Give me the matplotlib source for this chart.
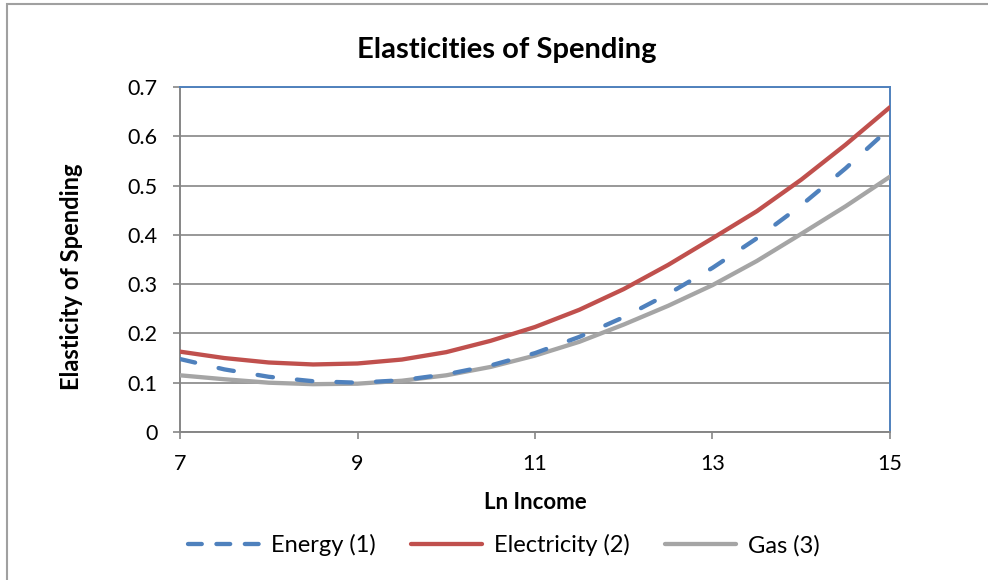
import numpy as np
import matplotlib
matplotlib.use("Agg")
import matplotlib.pyplot as plt
from matplotlib.lines import Line2D
from matplotlib.patches import Rectangle

plt.rcParams['font.family'] = ['Lato', 'DejaVu Sans']

# Ln income grid and spending elasticities per series
ln_income = [7.0, 7.5, 8.0, 8.5, 9.0, 9.5, 10.0, 10.5, 11.0, 11.5,
             12.0, 12.5, 13.0, 13.5, 14.0, 14.5, 15.0]
energy = [0.148, 0.127, 0.112, 0.103, 0.100, 0.105, 0.117, 0.135, 0.160,
          0.193, 0.233, 0.280, 0.333, 0.393, 0.460, 0.535, 0.617]
electricity = [0.163, 0.150, 0.141, 0.137, 0.139, 0.147, 0.162, 0.185, 0.213,
               0.248, 0.290, 0.339, 0.393, 0.448, 0.512, 0.583, 0.659]
gas = [0.115, 0.107, 0.100, 0.097, 0.098, 0.104, 0.115, 0.132, 0.155,
       0.183, 0.218, 0.256, 0.298, 0.347, 0.402, 0.458, 0.518]

x_ticks = [7, 9, 11, 13, 15]
y_ticks = [0, 0.1, 0.2, 0.3, 0.4, 0.5, 0.6, 0.7]
y_labels = ['0', '0.1', '0.2', '0.3', '0.4', '0.5', '0.6', '0.7']

blue = '#4F81BD'
red = '#C0504D'
grey = '#A5A5A5'
axis_grey = '#868686'
lw = 3.1
dash = (3.6, 5.6)

fig = plt.figure(figsize=(9.88, 5.8), dpi=100)
ax = fig.add_axes([0.1822, 0.2552, 0.7186, 0.5948])

ax.plot(ln_income, energy, color=blue, lw=lw, dashes=dash,
        dash_capstyle='round', label='Energy (1)', zorder=4)
ax.plot(ln_income, electricity, color=red, lw=lw, solid_capstyle='round',
        label='Electricity (2)', zorder=3)
ax.plot(ln_income, gas, color=grey, lw=lw, solid_capstyle='round',
        label='Gas (3)', zorder=3)

ax.set_xlim(7, 15)
ax.set_ylim(0, 0.7)
ax.set_xticks(x_ticks)
ax.set_yticks(y_ticks)
ax.set_yticklabels(y_labels)
ax.tick_params(axis='both', direction='out', length=5, width=1.2,
               color=axis_grey, labelsize=15.5, pad=11)
ax.yaxis.grid(True, color=axis_grey, lw=1.2)
ax.set_axisbelow(True)

for side in ('left', 'bottom'):
    ax.spines[side].set_color(axis_grey)
    ax.spines[side].set_linewidth(1.4)
for side in ('top', 'right'):
    ax.spines[side].set_color(blue)
    ax.spines[side].set_linewidth(1.4)

fig.text(0.513, 0.913, 'Elasticities of Spending', fontsize=21, fontweight='bold',
         ha='center', va='center')
ax.set_xlabel('Ln Income', fontsize=16, fontweight='bold', labelpad=13)
ax.set_ylabel('Elasticity of Spending', fontsize=17, fontweight='bold')
ax.yaxis.set_label_coords(-0.137, 0.45)

handles = [
    Line2D([], [], color=blue, lw=lw, dashes=(3.2, 3.4), dash_capstyle='round'),
    Line2D([], [], color=red, lw=lw, solid_capstyle='round'),
    Line2D([], [], color=grey, lw=lw, solid_capstyle='round'),
]
fig.legend(handles, ['Energy (1)', 'Electricity (2)', 'Gas (3)'],
           loc='center', bbox_to_anchor=(0.51, 0.06), ncol=3, frameon=False,
           fontsize=17, handlelength=3.0, handletextpad=0.5, columnspacing=1.5)

# outer chart border
fig.patches.append(Rectangle((0.0071, -0.05), 1.05, 1.043, transform=fig.transFigure,
                             fill=False, edgecolor='#A0A0A0', lw=1.5))

fig.savefig('out.png', dpi=100)
